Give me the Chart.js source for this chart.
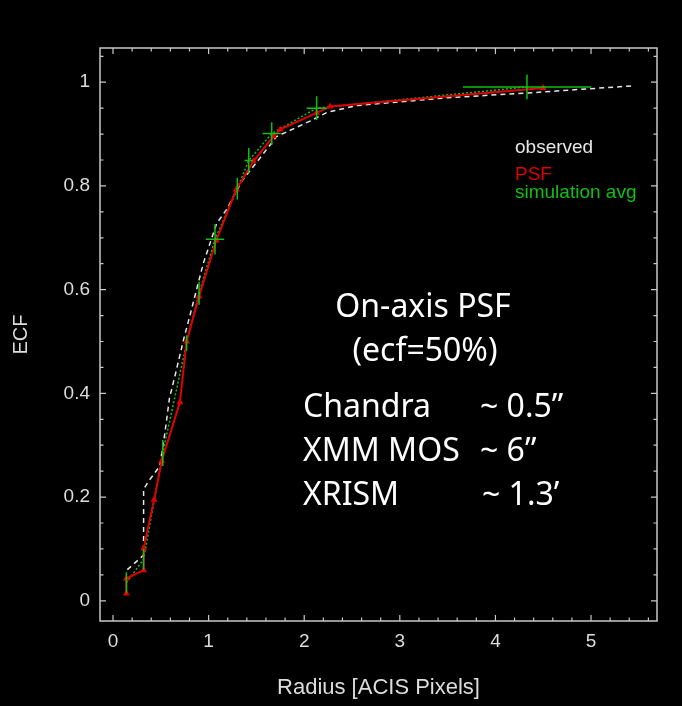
<!DOCTYPE html>
<html>
<head>
<meta charset="utf-8">
<script src="https://cdn.jsdelivr.net/npm/chart.js@4.4.0/dist/chart.umd.min.js"></script>
<style>
  html, body { margin: 0; padding: 0; background: #000; }
  canvas { display: block; }
</style>
</head>
<body>
<canvas id="ecfChart" width="682" height="706"></canvas>
<script>
// ECF vs radius, on-axis PSF

const xTicks = [0, 1, 2, 3, 4, 5];
const yTicks = [0, 0.2, 0.4, 0.6, 0.8, 1];

// observed (white dashed)
const obsX = [0.15, 0.32, 0.32, 0.37, 0.49, 0.54, 0.59, 0.65, 0.74, 0.81, 0.945, 1.085, 1.19, 1.35, 1.50, 1.71, 2.06, 2.24, 2.55, 3.49, 4.40, 5.43];
const obsY = [0.06, 0.088, 0.215, 0.23, 0.26, 0.32, 0.39, 0.435, 0.505, 0.554, 0.651, 0.728, 0.755, 0.81, 0.845, 0.895, 0.925, 0.942, 0.955, 0.97, 0.98, 0.993];

// PSF (red)
const psfX = [0.14, 0.14, 0.32, 0.32, 0.43, 0.51, 0.70, 0.77, 0.90, 1.08, 1.29, 1.47, 1.68, 1.75, 2.13, 2.27, 4.50];
const psfY = [0.014, 0.043, 0.059, 0.101, 0.195, 0.27, 0.383, 0.50, 0.587, 0.695, 0.793, 0.848, 0.896, 0.909, 0.941, 0.953, 0.989];

// simulation avg (green, with error crosses)
const simX = [0.14, 0.32, 0.52, 0.77, 0.90, 1.067, 1.30, 1.42, 1.66, 2.13, 4.33];
const simY = [0.035, 0.08, 0.285, 0.497, 0.593, 0.697, 0.795, 0.849, 0.901, 0.950, 0.991];
const simXErr = [0, 0, 0.015, 0, 0.01, 0.096, 0.01, 0.044, 0.096, 0.105, 0.67];
const simYErr = [0.02, 0.02, 0.025, 0.015, 0.022, 0.029, 0.021, 0.024, 0.022, 0.023, 0.024];

const legendItems = [
  { text: 'observed', color: '#e6e6e6' },
  { text: 'PSF', color: '#e00000' },
  { text: 'simulation avg', color: '#10c010' },
];

const notes = [
  { text: 'On-axis PSF', x: 423, y: 317, align: 'center' },
  { text: '(ecf=50%)', x: 425, y: 361, align: 'center' },
  { text: 'Chandra', x: 303, y: 417, align: 'left' },
  { text: '~ 0.5\u201d', x: 480, y: 417, align: 'left' },
  { text: 'XMM MOS', x: 303, y: 461, align: 'left' },
  { text: '~ 6\u201d', x: 480, y: 461, align: 'left' },
  { text: 'XRISM', x: 303, y: 505, align: 'left' },
  { text: '~ 1.3\u2019', x: 482, y: 505, align: 'left' },
];

const pts = (xs, ys) => xs.map((x, i) => ({ x, y: ys[i] }));

// error crosses as broken line segments
const errSegs = [];
simX.forEach((x, i) => {
  const y = simY[i];
  if (simXErr[i] > 0) {
    errSegs.push({ x: x - simXErr[i], y }, { x: x + simXErr[i], y }, { x, y: null });
  }
  errSegs.push({ x, y: y - simYErr[i] }, { x, y: y + simYErr[i] }, { x, y: null });
});

const frame = {
  id: 'frame',
  afterDatasetsDraw(chart) {
    const { ctx, chartArea: a, scales: { x, y } } = chart;
    ctx.save();
    ctx.strokeStyle = '#c8c8c8';
    ctx.lineWidth = 1.5;
    ctx.strokeRect(a.left, a.top, a.right - a.left, a.bottom - a.top);

    ctx.lineWidth = 1.2;
    ctx.beginPath();
    for (let i = 0; i <= 28; i++) {
      const px = x.getPixelForValue(i * 0.2);
      const len = i % 5 === 0 ? 6 : 3.5;
      ctx.moveTo(px, a.bottom); ctx.lineTo(px, a.bottom - len);
      ctx.moveTo(px, a.top); ctx.lineTo(px, a.top + len);
    }
    for (let i = 0; i <= 21; i++) {
      const py = y.getPixelForValue(i * 0.05);
      const len = i % 4 === 0 ? 6 : 3.5;
      ctx.moveTo(a.left, py); ctx.lineTo(a.left + len, py);
      ctx.moveTo(a.right, py); ctx.lineTo(a.right - len, py);
    }
    ctx.stroke();

    // legend text
    ctx.font = '19px "Liberation Sans", Arial, sans-serif';
    ctx.textAlign = 'left';
    ctx.textBaseline = 'alphabetic';
    const legY = [153, 180, 198];
    legendItems.forEach((it, i) => {
      ctx.fillStyle = it.color;
      ctx.fillText(it.text, 515, legY[i]);
    });

    // annotation
    ctx.font = '32px "Noto Sans", Lato, sans-serif';
    ctx.fillStyle = '#ffffff';
    notes.forEach(n => {
      ctx.textAlign = n.align;
      ctx.fillText(n.text, n.x, n.y);
    });
    ctx.restore();
  }
};

new Chart(document.getElementById('ecfChart'), {
  type: 'line',
  data: {
    datasets: [
      {
        label: 'observed',
        data: pts(obsX, obsY),
        borderColor: '#e6e6e6',
        borderWidth: 1.5,
        borderDash: [5, 4],
        pointRadius: 0,
        order: 3,
      },
      {
        label: 'simulation avg',
        data: pts(simX, simY),
        borderColor: '#10c010',
        borderWidth: 1.5,
        borderDash: [2, 2],
        pointRadius: 0,
        order: 2,
      },
      {
        label: 'PSF',
        data: pts(psfX, psfY),
        borderColor: '#e00000',
        backgroundColor: '#e00000',
        borderWidth: 2,
        pointStyle: 'triangle',
        pointRadius: 2,
        order: 1,
      },
      {
        label: 'sim err',
        data: errSegs,
        borderColor: '#10c010',
        borderWidth: 1.5,
        pointRadius: 0,
        spanGaps: false,
        order: 0,
      },
    ],
  },
  options: {
    responsive: false,
    animation: false,
    devicePixelRatio: 1,
    layout: { padding: { top: 48, right: 25, left: 0, bottom: 0 } },
    plugins: { legend: { display: false }, tooltip: { enabled: false } },
    scales: {
      x: {
        type: 'linear',
        min: -0.136,
        max: 5.69,
        afterBuildTicks: s => { s.ticks = xTicks.map(v => ({ value: v })); },
        afterFit: s => { s.height = 85; },
        grid: { display: false, drawTicks: false },
        border: { display: false },
        ticks: { color: '#dddddd', padding: 9, maxRotation: 0, font: { family: '"Liberation Sans", Arial', size: 19 } },
        title: { display: true, text: 'Radius [ACIS Pixels]', color: '#dddddd', padding: { top: 0, bottom: 5 }, font: { family: '"Liberation Sans", Arial', size: 22 } },
      },
      y: {
        type: 'linear',
        min: -0.039,
        max: 1.066,
        afterBuildTicks: s => { s.ticks = yTicks.map(v => ({ value: v })); },
        afterFit: s => { s.width = 100; },
        grid: { display: false, drawTicks: false },
        border: { display: false },
        ticks: { color: '#dddddd', padding: 10, callback: v => String(+v.toFixed(1)), font: { family: '"Liberation Sans", Arial', size: 19 } },
        title: { display: true, text: 'ECF', color: '#dddddd', padding: { top: 9, bottom: 0 }, font: { family: '"Liberation Sans", Arial', size: 20 } },
      },
    },
  },
  plugins: [frame],
});
</script>
</body>
</html>
